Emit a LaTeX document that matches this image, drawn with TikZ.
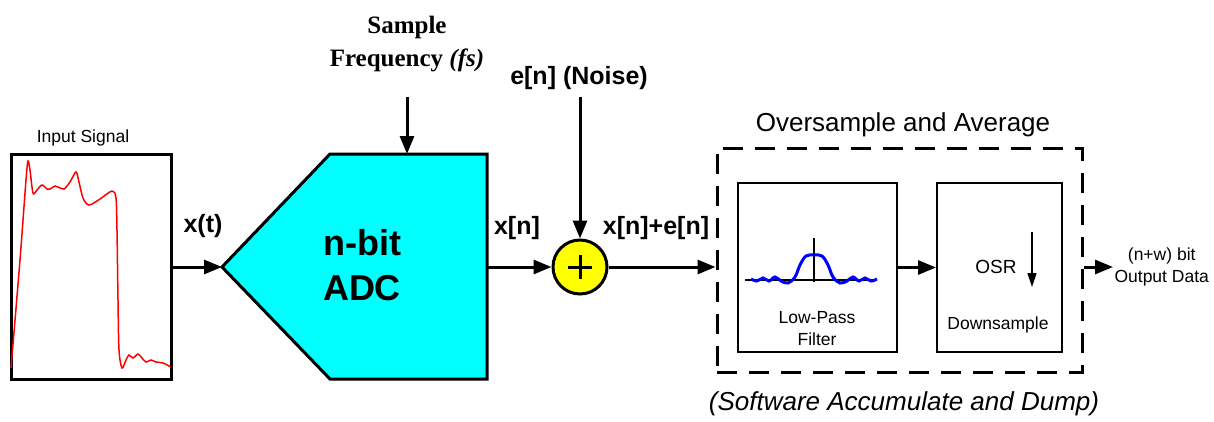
\documentclass[tikz,border=0pt]{standalone}
\usepackage{fontspec}
\setmainfont{Liberation Sans}
\newfontfamily\serifbf{Liberation Serif}
\usetikzlibrary{arrows.meta,positioning}
\definecolor{adccyan}{RGB}{0,255,255}
\definecolor{sumyellow}{RGB}{255,255,0}
\tikzset{
  sig/.style={line width=3pt,-{Triangle[length=18pt,width=14pt]}},
  bigblk/.style={draw,line width=3pt,inner sep=0pt},
  subblk/.style={draw,line width=2pt,inner sep=0pt,minimum height=169pt},
  boldlbl/.style={font=\fontsize{25}{29}\selectfont\bfseries},
  smalllbl/.style={font=\fontsize{17.5}{22}\selectfont,align=center},
  midlbl/.style={font=\fontsize{26}{30}\selectfont},
}
\begin{document}
\begin{tikzpicture}[x=1pt,y=-1pt]
\useasboundingbox (0,0) rectangle (1214,421);
% input signal
\node[bigblk,minimum width=160pt,minimum height=225pt] (inbox) at (91,266.5) {};
\node[smalllbl] (inlbl) at (83,138) {Input Signal};
\draw[red,line width=1.5pt] plot[smooth,tension=0.5] coordinates {
  (11,368) (20,260) (26,180) (28,161) (30,170) (33,193) (37,190) (42,185)
  (47,189) (50,189) (55,186) (58,187) (64,189) (70,182) (76,172) (79,182)
  (83,198) (89,205) (100,199) (112,191) (116,198) (117,230) (118,300)
  (119,350) (122,368) (126,360) (129,355) (133,358) (138,354) (142,358)
  (146,362) (151,360) (156,362) (163,363) (171,367)};
% ADC
\draw[line width=3pt,fill=adccyan,line join=miter]
  (222,267) coordinate (adcin) -- (330,154) -- (487,154) -- (487,379) -- (330,379) -- cycle;
\coordinate (adcout) at (487,267);
\coordinate (adctop) at (407,154);
\node[font=\fontsize{36}{45}\selectfont\bfseries,align=center] (adclbl) at (362,265) {n-bit\\ADC};
\node[font=\fontsize{25}{33}\selectfont\serifbf\bfseries,align=center] (fs) at (407,44) {Sample\\Frequency \textit{(fs)}};
\coordinate (fsin) at (407,97);
% summing junction
\node[circle,draw,line width=3pt,fill=sumyellow,minimum size=54pt,inner sep=0pt] (sum) at (580,267) {};
\draw[line width=3pt] ([xshift=-12pt]sum.center) -- ([xshift=12pt]sum.center)
  ([yshift=-12pt]sum.center) -- ([yshift=12pt]sum.center);
\node[boldlbl] (noise) at (579,78) {e[n] (Noise)};
\coordinate (noisein) at (580,97);
% oversample and average
\node[draw,line width=3pt,dash pattern=on 20pt off 12pt,minimum width=365pt,minimum height=224pt] (osa) at (899.5,260) {};
\node[midlbl] (osalbl) at (903,125) {Oversample and Average};
\node[midlbl,font=\fontsize{26}{30}\selectfont\itshape] (swlbl) at (904,404) {(Software Accumulate and Dump)};
\node[subblk,minimum width=159pt] (lpf) at (817.5,267.5) {};
\node[subblk,minimum width=125pt] (ds) at (999.5,267.5) {};
\node[smalllbl] (lpflbl) at (817,329) {Low-Pass\\Filter};
\node[smalllbl] (dslbl) at (998,325) {Downsample};
\node[smalllbl,font=\fontsize{19}{22}\selectfont] (osr) at (996,267) {OSR};
\draw[line width=1.5pt,-{Triangle[length=14pt,width=9pt]}] (1032,232) -- (1032,287);
% filter response
\draw[line width=1.5pt] (745,280) -- (877,280) (814,238) -- (814,282);
\draw[blue,line width=3pt] plot[smooth,tension=0.6] coordinates {
  (751,279) (757,281) (763,278) (769,281) (775,277) (781,281) (788,283)
  (795,277) (800,265) (806,256) (814,255) (822,256) (828,265) (833,277)
  (840,283) (847,281) (853,277) (859,281) (865,278) (871,281) (877,279)};
% signal flow
\draw[sig] (inbox.east |- adcin) -- (adcin);
\node[boldlbl] (xt) at (203,226) {x(t)};
\draw[sig] (fsin) -- (adctop);
\draw[sig] (adcout) -- (sum.west);
\node[boldlbl] (xn) at (517,228) {x[n]};
\draw[sig] (noisein) -- (sum.north);
\draw[sig] (sum.east) -- (sum.east -| osa.west);
\node[boldlbl] (xne) at (656,228) {x[n]+e[n]};
\draw[sig] (lpf.east) -- (ds.west);
\coordinate (out) at (1113,267);
\draw[sig] (osa.east |- out) -- (out);
\node[smalllbl,anchor=west] (outlbl) at (1111,267) {(n+w) bit\\Output Data};
\end{tikzpicture}
\end{document}
